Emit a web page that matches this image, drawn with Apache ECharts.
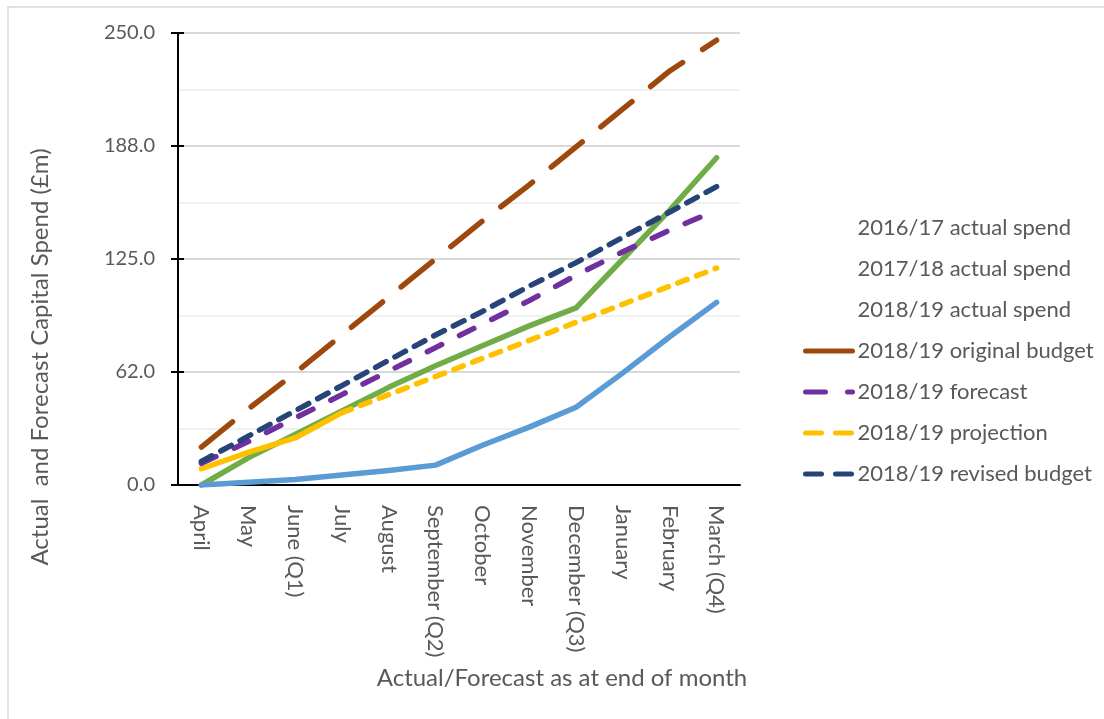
<!DOCTYPE html>
<html>
<head>
<meta charset="utf-8">
<script src="https://cdn.jsdelivr.net/npm/echarts@6/dist/echarts.min.js"></script>
<style>html,body{margin:0;padding:0;background:#fff}#c{width:1104px;height:719px}</style>
</head>
<body>
<div id="c"></div>
<script>
const categories = ['April','May','June (Q1)','July','August','September (Q2)','October','November','December (Q3)','January','February','March (Q4)'];
const yTickLabels = ['0.0','62.0','125.0','188.0','250.0'];
const actual1617 = [0, 15, 28, 41, 54, 66, 77, 88, 98, 125, 152, 181];
const actual1718 = [0, 1.5, 3, 5.5, 8, 11, 22, 32, 43, 62, 82, 101];
const actual1819 = [9, 18, 26, 40, null, null, null, null, null, null, null, null];
const originalBudget = [21, 42, 62, 83, 104, 125, 146, 166, 187, 208, 229, 246];
const forecast = [12, 24, 37, 50, 63, 76, 89, 102, 116, 129, 141, 152];
const projection = [null, null, null, 40, 50, 60, 70, 80, 90, 100, 110, 120];
const revisedBudget = [13, 27, 41, 55, 69, 83, 96, 110, 123, 137, 151, 165];

const FONT = 'Lato';
const TXT = '#595959';
const chart = echarts.init(document.getElementById('c'), null, {renderer: 'canvas'});

function line(name, data, color, dash, z) {
  return {
    name, type: 'line', data, symbol: 'none', z: z,
    lineStyle: {color, width: 5.5, type: dash || 'solid', cap: 'round', join: 'round'},
    itemStyle: {color},
    connectNulls: false, animation: false
  };
}
const hidden = {lineStyle: {opacity: 0}, itemStyle: {opacity: 0}};
const noSym = {opacity: 0};

chart.setOption({
  animation: false,
  grid: {left: 178, right: 364, top: 33, bottom: 234},
  xAxis: [{
    type: 'category', data: categories, boundaryGap: true,
    axisLine: {lineStyle: {color: '#000', width: 2}},
    axisTick: {length: 7, lineStyle: {color: '#000', width: 2}},
    axisLabel: {rotate: -90, margin: 20, color: TXT, fontFamily: FONT, fontSize: 22, interval: 0}
  }, {
    type: 'category', data: categories, boundaryGap: true, position: 'bottom',
    axisLine: {show: false},
    axisTick: {inside: true, length: 6, lineStyle: {color: '#000', width: 2}},
    axisLabel: {show: false}
  }],
  yAxis: [{
    type: 'value', min: 0, max: 250, interval: 62.5,
    axisLine: {show: true, lineStyle: {color: '#000', width: 2}},
    axisTick: {show: true, length: 7, lineStyle: {color: '#000', width: 2}},
    axisLabel: {margin: 23, color: TXT, fontFamily: FONT, fontSize: 20,
      formatter: v => yTickLabels[Math.round(v / 62.5)]},
    splitLine: {lineStyle: {color: '#d9d9d9', width: 2}},
    minorTick: {show: false, splitNumber: 2},
    minorSplitLine: {show: true, lineStyle: {color: '#f0f0f0', width: 2}}
  }, {
    type: 'value', min: 0, max: 250, interval: 62.5, position: 'left',
    axisLine: {show: false},
    axisTick: {show: true, inside: true, length: 6, lineStyle: {color: '#000', width: 2}},
    axisLabel: {show: false}, splitLine: {show: false}
  }],
  legend: {
    orient: 'vertical', left: 798, top: 212, itemWidth: 47, itemHeight: 14, itemGap: 19,
    textStyle: {color: TXT, fontFamily: FONT, fontSize: 22, lineHeight: 22},
    data: [
      Object.assign({name: '2016/17 actual spend'}, hidden),
      Object.assign({name: '2017/18 actual spend'}, hidden),
      Object.assign({name: '2018/19 actual spend'}, hidden),
      {name: '2018/19 original budget', itemStyle: noSym, lineStyle: {type: 'solid', width: 5}},
      {name: '2018/19 forecast', itemStyle: noSym, lineStyle: {type: [20, 22], width: 5}},
      {name: '2018/19 projection', itemStyle: noSym, lineStyle: {type: [16, 14], width: 5}},
      {name: '2018/19 revised budget', itemStyle: noSym, lineStyle: {type: [16, 14], width: 5}}
    ]
  },
  graphic: [
    {type: 'rect', shape: {x: 8, y: 7, width: 1300, height: 900}, style: {fill: 'none', stroke: '#d9d9d9', lineWidth: 1.5}, silent: true},
    {type: 'text', x: 40, y: 357, rotation: Math.PI / 2,
      style: {text: 'Actual  and Forecast Capital Spend (£m)', fill: TXT, font: '24px ' + FONT, align: 'center', verticalAlign: 'middle'}},
    {type: 'text', x: 562, y: 678,
      style: {text: 'Actual/Forecast as at end of month', fill: TXT, font: '24px ' + FONT, align: 'center', verticalAlign: 'middle'}}
  ],
  series: [
    line('2016/17 actual spend', actual1617, '#70AD47', null, 2),
    line('2017/18 actual spend', actual1718, '#5B9BD5', null, 3),
    line('2018/19 actual spend', actual1819, '#FFC000', null, 4),
    line('2018/19 original budget', originalBudget, '#9E480E', [40, 24], 5),
    line('2018/19 forecast', forecast, '#7030A0', [16, 20], 6),
    line('2018/19 projection', projection, '#FFC000', [10, 10], 7),
    line('2018/19 revised budget', revisedBudget, '#264478', [12, 10], 8)
  ]
});
</script>
</body>
</html>
